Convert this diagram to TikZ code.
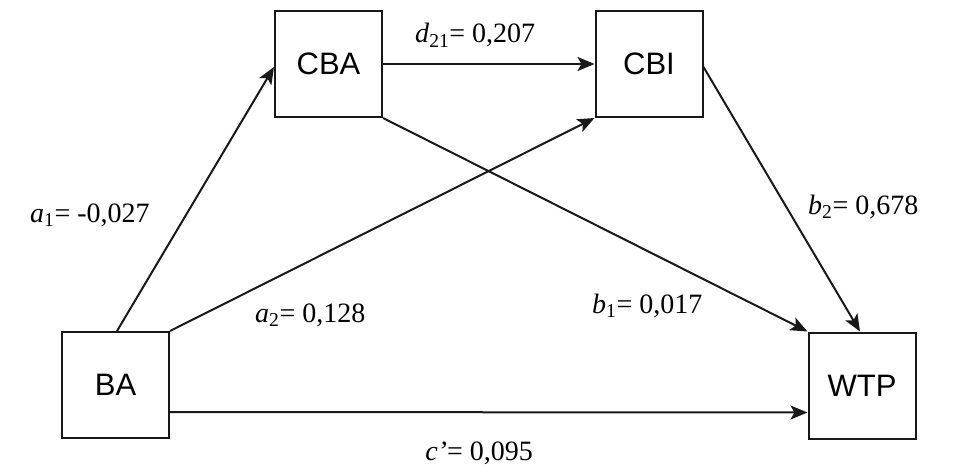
\documentclass[tikz,border=0pt]{standalone}
\usepackage{fontspec}
\setmainfont{Liberation Serif}
\setsansfont{Liberation Sans}
\usetikzlibrary{arrows.meta}
\begin{document}
\begin{tikzpicture}[x=1pt,y=-1pt,
  box/.style={draw=black!90, line width=2pt, rectangle, inner sep=0pt,
    minimum width=107pt, minimum height=106pt,
    font=\sffamily\fontsize{31}{33}\selectfont},
  conn/.style={draw=black!90, line width=2pt,
    -{Stealth[length=17pt,width=14pt,inset=4pt]}},
  lab/.style={inner sep=0pt, font=\fontsize{28}{30}\selectfont}]
\useasboundingbox (0,0) rectangle (968,468);
\node[box] (BA)  at (115.5,385) {BA};
\node[box] (CBA) at (328.5,64) {CBA};
\node[box] (CBI) at (649,64) {CBI};
\node[box] (WTP) at (862,385.5) {WTP};
\draw[conn] ([xshift=1.5pt]BA.north) -- ([yshift=-3pt]CBA.west);
\draw[conn] (BA.north east) -- (CBI.south west);
\draw[conn] (CBA.east) -- (CBI.west);
\draw[conn] (CBA.south east) -- (WTP.north west);
\draw[conn] ([yshift=-3pt]CBI.east) -- ([xshift=-2pt]WTP.north);
\draw[conn] ([yshift=-27pt]BA.east) -- ([yshift=-27pt]WTP.west);
\node[lab, anchor=base west] (ld) at (415,43) {\textit{d}\textsubscript{21}= 0,207};
\node[lab, anchor=base west] (la1) at (30,222) {\textit{a}\textsubscript{1}= -0,027};
\node[lab, anchor=base west] (la2) at (255,322) {\textit{a}\textsubscript{2}= 0,128};
\node[lab, anchor=base west] (lb1) at (592,313) {\textit{b}\textsubscript{1}= 0,017};
\node[lab, anchor=base west] (lb2) at (808,214) {\textit{b}\textsubscript{2}= 0,678};
\node[lab, anchor=base east] (lc) at (533,460) {\textit{c’}= 0,095};
\end{tikzpicture}
\end{document}
